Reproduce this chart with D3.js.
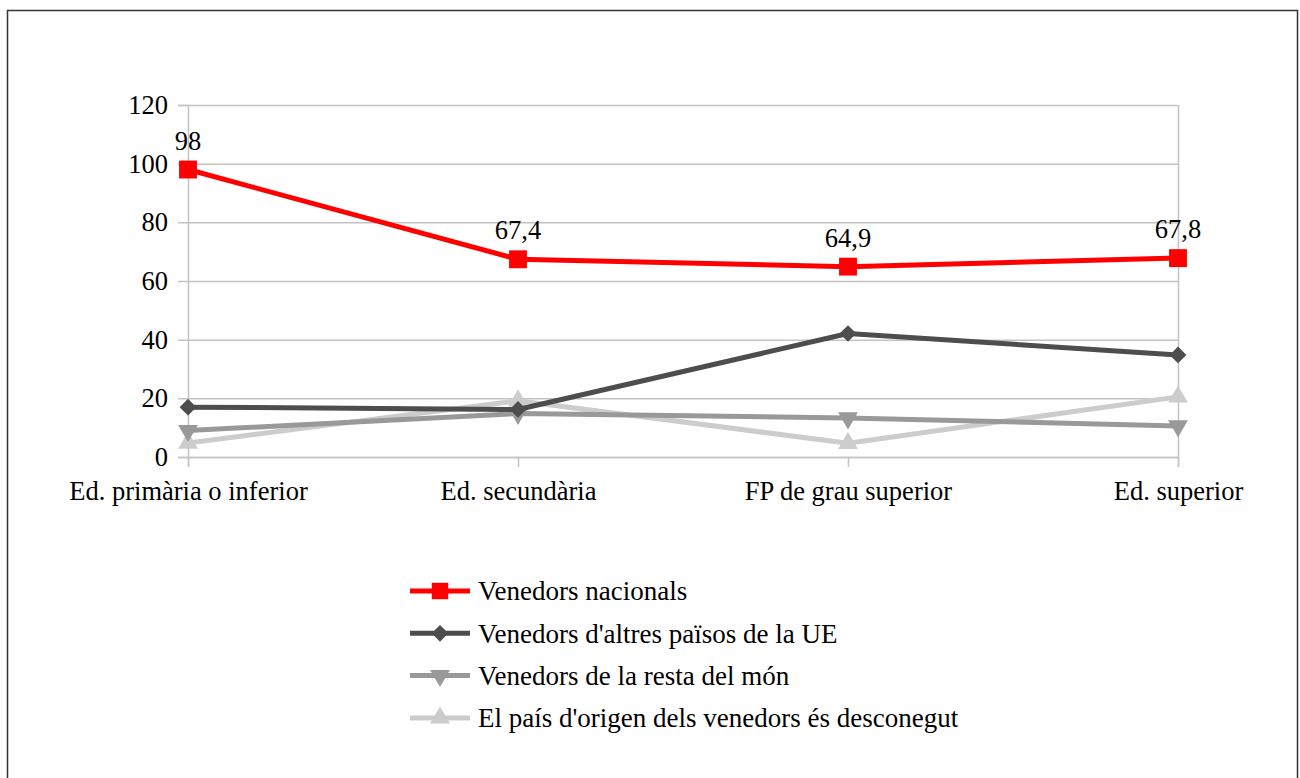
<!DOCTYPE html>
<html>
<head>
<meta charset="utf-8">
<script src="https://cdn.jsdelivr.net/npm/d3@7"></script>
<style>
  body { margin: 0; background: #fff; }
  svg { display: block; font-family: "Liberation Serif", "DejaVu Serif", serif; }
</style>
</head>
<body>
<script>
// categories and series values
var categories = ["Ed. primària o inferior", "Ed. secundària", "FP de grau superior", "Ed. superior"];
var nacionals = [98, 67.4, 64.9, 67.8];
var altresUE = [17, 16.2, 42.1, 34.8];
var restaMon = [9, 14.8, 13.3, 10.6];
var desconegut = [4.8, 19.2, 4.7, 20.5];
var yTicks = [0, 20, 40, 60, 80, 100, 120];

var series = [
    { name: "Venedors nacionals", values: nacionals, color: "#ff0000", symbol: "square", labels: true },
    { name: "Venedors d'altres països de la UE", values: altresUE, color: "#4d4d4d", symbol: "diamond" },
    { name: "Venedors de la resta del món", values: restaMon, color: "#999999", symbol: "down" },
    { name: "El país d'origen dels venedors és desconegut", values: desconegut, color: "#cccccc", symbol: "up" }
];

var W = 1300, H = 778;
var margin = { top: 105, left: 188, right: 122, bottom: 321 };
var width = W - margin.left - margin.right,
    height = H - margin.top - margin.bottom;

var svg = d3.select("body").append("svg")
    .attr("width", W)
    .attr("height", H);

// outer frame
svg.append("rect")
    .attr("x", 7.5).attr("y", 10.5)
    .attr("width", 1290).attr("height", 800)
    .attr("fill", "none")
    .attr("stroke", "#333")
    .attr("stroke-width", 1.5);

var g = svg.append("g")
    .attr("transform", "translate(" + margin.left + "," + margin.top + ")");

// scales
var x = d3.scalePoint().domain(categories).range([0, width]);
var y = d3.scaleLinear().domain([0, 120]).range([height, 0]);

// gridlines
g.append("g")
    .selectAll("line")
    .data(yTicks)
    .join("line")
    .attr("x1", -10).attr("x2", width)
    .attr("y1", function (d) { return y(d) + 0.5; })
    .attr("y2", function (d) { return y(d) + 0.5; })
    .attr("stroke", "#c3c3c3")
    .attr("stroke-width", 1.5);

// y axis
var yAxis = g.append("g")
    .call(d3.axisLeft(y).tickValues(yTicks).tickSize(10).tickPadding(10));
yAxis.select(".domain").attr("stroke", "#c3c3c3").attr("stroke-width", 1.5);
yAxis.selectAll(".tick line").remove();
yAxis.selectAll("text")
    .attr("font-size", 26.5)
    .attr("font-family", "Liberation Serif")
    .attr("fill", "#000");

// x axis
var xAxis = g.append("g")
    .attr("transform", "translate(0," + height + ")")
    .call(d3.axisBottom(x).tickSize(10).tickPadding(14));
xAxis.select(".domain").attr("stroke", "#c3c3c3").attr("stroke-width", 1.5);
xAxis.selectAll(".tick line").attr("stroke", "#c3c3c3").attr("stroke-width", 1.5);
xAxis.selectAll("text")
    .attr("font-size", 26.5)
    .attr("font-family", "Liberation Serif")
    .attr("fill", "#000");

// right vertical edge of plot area
g.append("line")
    .attr("x1", width + 0.5).attr("x2", width + 0.5)
    .attr("y1", 0).attr("y2", height)
    .attr("stroke", "#c3c3c3").attr("stroke-width", 1.5);

function symbolFor(s) {
    if (s === "square") return d3.symbol().type(d3.symbolSquare).size(320)();
    if (s === "diamond") return d3.symbol().type(d3.symbolSquare).size(140)();
    return d3.symbol().type(d3.symbolTriangle).size(170)();
}
function rotFor(s) {
    if (s === "down") return " rotate(180)";
    if (s === "diamond") return " rotate(45)";
    return "";
}

var line = d3.line()
    .x(function (d, i) { return x(categories[i]); })
    .y(function (d) { return y(d); });

// draw from the back (lightest) to front (red)
series.slice().reverse().forEach(function (s) {
    g.append("path")
        .attr("d", line(s.values))
        .attr("fill", "none")
        .attr("stroke", s.color)
        .attr("stroke-width", 5)
        .attr("stroke-linejoin", "round");

    g.selectAll(null)
        .data(s.values)
        .join("path")
        .attr("d", symbolFor(s.symbol))
        .attr("transform", function (d, i) {
            return "translate(" + x(categories[i]) + "," + y(d) + ")" + rotFor(s.symbol);
        })
        .attr("fill", s.color);

    if (s.labels) {
        g.selectAll(null)
            .data(s.values)
            .join("text")
            .attr("x", function (d, i) { return x(categories[i]); })
            .attr("y", function (d) { return y(d) - 20; })
            .attr("text-anchor", "middle")
            .attr("font-size", 26.5)
            .text(function (d) { return String(d).replace(".", ","); });
    }
});

// legend
var legend = svg.append("g")
    .attr("transform", "translate(410,591)");

var item = legend.selectAll("g")
    .data(series)
    .join("g")
    .attr("transform", function (d, i) { return "translate(0," + (i * 42.3) + ")"; });

item.append("line")
    .attr("x1", 0).attr("x2", 60)
    .attr("stroke", function (d) { return d.color; })
    .attr("stroke-width", 5);

item.append("path")
    .attr("d", function (d) {
        if (d.symbol === "square") return d3.symbol().type(d3.symbolSquare).size(270)();
        return symbolFor(d.symbol);
    })
    .attr("transform", function (d) { return "translate(30,0)" + rotFor(d.symbol); })
    .attr("fill", function (d) { return d.color; });

item.append("text")
    .attr("x", 68)
    .attr("dy", "0.35em")
    .attr("font-size", 27)
    .text(function (d) { return d.name; });
</script>
</body>
</html>
